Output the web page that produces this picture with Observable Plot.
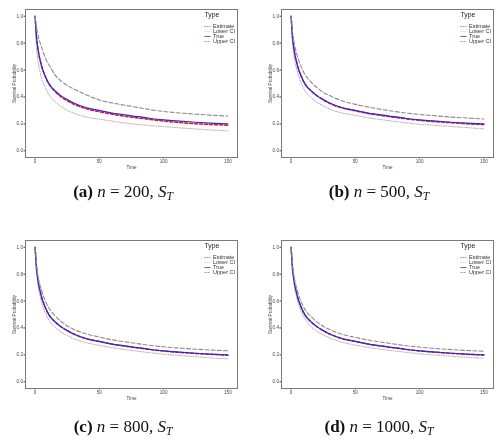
<!DOCTYPE html>
<html>
<head>
<meta charset="utf-8">
<script src="https://cdn.jsdelivr.net/npm/d3@7"></script>
<script src="https://cdn.jsdelivr.net/npm/@observablehq/plot@0.6"></script>
<style>
  html, body { margin: 0; padding: 0; background: #fff; overflow: hidden; }
  #root { position: relative; width: 503px; height: 439px; background: #fff; }
  .panel, .legend { position: absolute; will-change: transform; -webkit-font-smoothing: antialiased; }
  .cap { position: absolute; font-family: "Liberation Serif", "Times New Roman", serif; font-size: 17px; line-height: 17px; white-space: nowrap; color: #111; transform: translateX(-50%); will-change: transform; -webkit-font-smoothing: antialiased; }
  .cap .sub { font-size: 11.5px; font-style: italic; position: relative; top: 3px; }
</style>
</head>
<body>
<div id="root"></div>
<script>
// ---- data ----
const times = [0,1,2,3,4,5,6,8,10,12,15,20,25,30,40,50,60,75,90,100,110,125,140,150];
const trueS = [1.0,0.85,0.77,0.71,0.67,0.63,0.60,0.55,0.51,0.48,0.45,0.41,0.38,0.355,0.32,0.30,0.28,0.26,0.24,0.23,0.222,0.212,0.204,0.20];

const est200 = [1.0,0.85,0.77,0.71,0.67,0.63,0.60,0.55,0.51,0.48,0.445,0.403,0.372,0.347,0.312,0.29,0.272,0.25,0.232,0.221,0.212,0.201,0.194,0.19];
const lo200  = [1.0,0.78,0.68,0.62,0.58,0.54,0.51,0.47,0.43,0.40,0.37,0.33,0.30,0.28,0.25,0.235,0.22,0.20,0.187,0.18,0.172,0.162,0.153,0.148];
const up200  = [1.0,0.92,0.87,0.83,0.80,0.77,0.74,0.69,0.65,0.62,0.57,0.52,0.485,0.46,0.415,0.378,0.355,0.33,0.305,0.292,0.283,0.272,0.263,0.258];

const est500 = [1.0,0.85,0.77,0.71,0.67,0.63,0.60,0.55,0.51,0.48,0.45,0.41,0.378,0.352,0.317,0.297,0.277,0.256,0.237,0.227,0.218,0.208,0.199,0.195];
const lo500  = [1.0,0.81,0.72,0.66,0.62,0.58,0.55,0.50,0.46,0.43,0.40,0.36,0.335,0.31,0.28,0.263,0.245,0.225,0.207,0.197,0.19,0.18,0.17,0.163];
const up500  = [1.0,0.89,0.82,0.77,0.73,0.70,0.67,0.62,0.58,0.55,0.515,0.47,0.435,0.41,0.37,0.345,0.325,0.30,0.28,0.27,0.262,0.25,0.242,0.236];

const est800 = [1.0,0.85,0.77,0.71,0.67,0.63,0.60,0.55,0.51,0.48,0.45,0.41,0.38,0.355,0.32,0.299,0.279,0.258,0.239,0.229,0.22,0.21,0.202,0.198];
const lo800  = [1.0,0.82,0.73,0.67,0.63,0.59,0.56,0.51,0.47,0.44,0.41,0.37,0.345,0.32,0.29,0.27,0.253,0.233,0.215,0.205,0.197,0.186,0.175,0.17];
const up800  = [1.0,0.88,0.80,0.75,0.71,0.68,0.65,0.60,0.56,0.53,0.495,0.45,0.415,0.39,0.355,0.333,0.312,0.29,0.27,0.26,0.252,0.242,0.234,0.23];

const est1000 = [1.0,0.85,0.77,0.71,0.67,0.63,0.60,0.55,0.51,0.48,0.45,0.41,0.38,0.355,0.32,0.30,0.28,0.259,0.24,0.23,0.221,0.211,0.203,0.199];
const lo1000  = [1.0,0.825,0.74,0.68,0.64,0.60,0.57,0.52,0.48,0.45,0.415,0.375,0.35,0.325,0.293,0.272,0.255,0.236,0.218,0.208,0.2,0.19,0.18,0.175];
const up1000  = [1.0,0.875,0.80,0.745,0.705,0.67,0.64,0.59,0.55,0.52,0.49,0.445,0.413,0.388,0.352,0.33,0.31,0.288,0.268,0.258,0.249,0.239,0.231,0.227];

const types = ["Estimate", "Lower CI", "True", "Upper CI"];
const xTicks = [0, 50, 100, 150];
const yTicks = [0, 0.2, 0.4, 0.6, 0.8, 1.0];

const panels = [
  {letter: "(a)", n: "200",  est: est200,  lo: lo200,  up: up200,  left: 0,   top: 0,   capX: 123, capBase: 197},
  {letter: "(b)", n: "500",  est: est500,  lo: lo500,  up: up500,  left: 256, top: 0,   capX: 379, capBase: 197},
  {letter: "(c)", n: "800",  est: est800,  lo: lo800,  up: up800,  left: 0,   top: 231, capX: 123, capBase: 432},
  {letter: "(d)", n: "1000", est: est1000, lo: lo1000, up: up1000, left: 256, top: 231, capX: 379, capBase: 432}
];

// ---- styles per type ----
const styleOf = {
  "Estimate": {stroke: "#ee1111", strokeWidth: 1.5, strokeDasharray: "3,2"},
  "Lower CI": {stroke: "#a0a0a0", strokeWidth: 0.9, strokeDasharray: "0.9,1.4"},
  "True":     {stroke: "#2a2ae0", strokeWidth: 1.2, strokeDasharray: null},
  "Upper CI": {stroke: "#8c8c8c", strokeWidth: 1.1, strokeDasharray: "4,2.2"}
};
const legendStyle = {
  "Estimate": {stroke: "#dd4444", strokeWidth: 0.8, strokeDasharray: "1.5,1"},
  "Lower CI": {stroke: "#aaaaaa", strokeWidth: 0.7, strokeDasharray: "0.6,0.9"},
  "True":     {stroke: "#3333cc", strokeWidth: 0.8, strokeDasharray: null},
  "Upper CI": {stroke: "#888888", strokeWidth: 0.8, strokeDasharray: "2,1"}
};

const root = document.getElementById("root");

function rows(arr) { return times.map((t, i) => ({t, s: arr[i]})); }

for (const p of panels) {
  const series = {"Estimate": p.est, "Lower CI": p.lo, "True": trueS, "Upper CI": p.up};
  const lineMarks = types.map(k => {
    const st = styleOf[k];
    const o = {x: "t", y: "s", stroke: st.stroke, strokeWidth: st.strokeWidth, curve: "monotone-x"};
    if (st.strokeDasharray) o.strokeDasharray = st.strokeDasharray;
    return Plot.line(rows(series[k]), o);
  });

  const chart = Plot.plot({
    width: 246, height: 175,
    marginLeft: 25, marginRight: 9, marginTop: 9, marginBottom: 18,
    style: {fontFamily: "Liberation Sans, Arial, sans-serif", fontSize: "4.5px", background: "transparent", color: "#555"},
    x: {domain: [-7.5, 157.5]},
    y: {domain: [-0.05, 1.05]},
    marks: [
      Plot.axisX({ticks: xTicks, tickSize: 1.5, tickPadding: 1, fontSize: 4.6, stroke: "#444",
                  label: "Time", labelAnchor: "center", labelArrow: "none", labelOffset: 11, fill: "#444"}),
      Plot.axisY({ticks: yTicks, tickFormat: d3.format(".1f"), tickSize: 1.5, tickPadding: 1, fontSize: 4.6, stroke: "#444",
                  label: "Survival Probability", labelAnchor: "center", labelArrow: "none", labelOffset: 13, fill: "#444"}),
      ...lineMarks,
      Plot.frame({stroke: "#7a7a7a", strokeWidth: 1})
    ]
  });
  chart.classList.add("panel");
  chart.style.left = p.left + "px";
  chart.style.top = p.top + "px";
  root.appendChild(chart);

  // legend
  const keyMarks = types.map(k => {
    const st = legendStyle[k];
    const o = {x1: () => 0, x2: () => 1, y1: () => k, y2: () => k, stroke: st.stroke, strokeWidth: st.strokeWidth};
    if (st.strokeDasharray) o.strokeDasharray = st.strokeDasharray;
    return Plot.link([k], o);
  });
  const legend = Plot.plot({
    width: 40, height: 36, margin: 0,
    style: {fontFamily: "Liberation Sans, Arial, sans-serif", fontSize: "5.5px", background: "transparent", overflow: "visible"},
    x: {domain: [0, 1], range: [2, 8], axis: null},
    y: {type: "point", domain: types, range: [12, 32], axis: null},
    marks: [
      Plot.text(["Type"], {frameAnchor: "top-left", dx: 2, dy: 1, lineAnchor: "top", textAnchor: "start", fontSize: 6.8, fill: "#222"}),
      ...keyMarks,
      Plot.text(types, {x: () => 1, y: d => d, dx: 2.5, textAnchor: "start", fill: "#333"})
    ]
  });
  legend.classList.add("legend");
  legend.style.left = (p.left + 202) + "px";
  legend.style.top = (p.top + 11) + "px";
  root.appendChild(legend);

  // caption
  const cap = document.createElement("div");
  cap.className = "cap";
  cap.innerHTML = `<b>${p.letter}</b> <i>n</i> = ${p.n}, <i>S</i><span class="sub">T</span>`;
  cap.style.left = p.capX + "px";
  cap.style.top = (p.capBase - 14) + "px";
  root.appendChild(cap);
}
</script>
</body>
</html>
